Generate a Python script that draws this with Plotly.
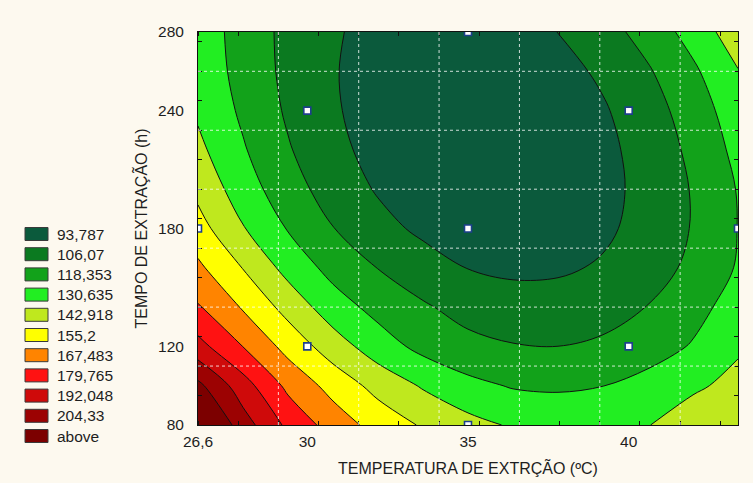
import plotly.graph_objects as go

# ---------------- data ----------------
temperatura = [26.6, 28.0, 29.4, 30.8, 32.2, 33.6, 35.0, 36.4, 37.8, 39.2, 40.6, 42.0, 43.4]
tempo = [80, 100, 120, 140, 160, 180, 200, 220, 240, 260, 280]

# response surface (rows follow `tempo`, columns follow `temperatura`)
z_80 = [225.0, 197.7, 177.0, 162.1, 150.5, 141.6, 134.6, 129.3, 127.0, 127.4, 130.3, 136.0, 140.0]
z_100 = [207.4, 185.1, 164.5, 150.8, 138.8, 129.4, 121.7, 117.4, 116.6, 118.2, 122.8, 129.0, 133.5]
z_120 = [184.0, 167.3, 151.0, 136.6, 124.2, 114.8, 109.4, 106.7, 106.1, 108.0, 112.5, 119.4, 129.3]
z_140 = [168.5, 154.0, 138.5, 124.0, 114.4, 107.5, 101.8, 99.2, 99.1, 101.5, 106.4, 113.9, 123.9]
z_160 = [157.6, 142.5, 126.5, 114.3, 105.8, 99.0, 93.5, 91.4, 92.0, 95.1, 100.7, 108.8, 119.4]
z_180 = [147.6, 131.4, 117.6, 106.4, 97.6, 91.4, 87.7, 86.5, 87.8, 91.6, 98.0, 106.8, 118.6]
z_200 = [139.8, 124.2, 111.2, 100.7, 92.7, 87.2, 84.2, 83.7, 85.8, 90.3, 97.4, 106.9, 119.0]
z_220 = [133.5, 119.5, 107.1, 97.1, 89.7, 84.9, 82.5, 82.7, 85.5, 90.7, 98.5, 108.8, 121.7]
z_240 = [128.8, 116.2, 104.4, 95.2, 88.4, 84.2, 82.5, 83.3, 86.7, 92.5, 100.8, 111.7, 125.1]
z_260 = [126.6, 114.0, 103.1, 94.6, 88.6, 85.1, 84.1, 85.5, 89.5, 95.9, 104.8, 116.2, 130.1]
z_280 = [125.8, 113.1, 102.9, 95.1, 89.9, 87.1, 86.9, 89.1, 93.9, 101.1, 110.9, 123.1, 137.8]

# experimental design points
ponto_temp = [26.6, 30, 30, 35, 35, 35, 40, 40, 43.4]
ponto_tempo = [180, 120, 240, 80, 180, 280, 120, 240, 180]

# contour levels and legend
niveis = [93.787, 106.07, 118.353, 130.635, 142.918, 155.2, 167.483, 179.765, 192.048, 204.33]
rotulos = ["93,787", "106,07", "118,353", "130,635", "142,918", "155,2",
           "167,483", "179,765", "192,048", "204,33", "above"]
cores = ["#0b5a3c", "#0b7a20", "#12a21a", "#22ee22", "#bfe81e", "#ffff00",
         "#ff8400", "#ff1212", "#cf0a0a", "#9c0202", "#7c0000"]

x_tickvals = [26.6, 30, 35, 40, 43.4]
x_ticktext = ["26,6", "30", "35", "40", "43,4"]
y_tickvals = [80, 120, 180, 240, 280]
y_ticktext = ["80", "120", "180", "240", "280"]

# ---------------- figure ----------------
z = [z_80, z_100, z_120, z_140, z_160, z_180, z_200, z_220, z_240, z_260, z_280]

n = len(cores)
colorscale = []
for k, c in enumerate(cores):
    lo = max(0.0, (k - 0.5) / (n - 1))
    hi = min(1.0, (k + 0.5) / (n - 1))
    colorscale.append([lo, c])
    colorscale.append([hi, c])

TXT = "#1e1e1e"
FONT = "Liberation Sans, Arial, sans-serif"

fig = go.Figure()
fig.add_trace(go.Contour(
    x=temperatura, y=tempo, z=z,
    autocontour=False,
    contours=dict(start=niveis[0], end=niveis[-1],
                  size=(niveis[-1] - niveis[0]) / (len(niveis) - 1),
                  coloring="fill", showlines=True),
    colorscale=colorscale, showscale=False,
    line=dict(color="#111111", width=1, smoothing=1.0),
    hoverinfo="skip",
))
fig.add_trace(go.Scatter(
    x=ponto_temp, y=ponto_tempo, mode="markers",
    marker=dict(symbol="square", size=7, color="white",
                line=dict(color="#1d3f8c", width=1.6)),
    showlegend=False, hoverinfo="skip",
))

# plot-area geometry in pixels (used to place legend)
L, R, T, B = 198, 738, 32, 425
W, H = 753, 483

def px_x(px):
    return (px - L) / (R - L)

def px_y(py):
    return (B - py) / (B - T)

shapes = []
annotations = []

# dotted white grid above the fill
x0, x1 = temperatura[0], temperatura[-1]
y0, y1 = tempo[0], tempo[-1]
gx = x0 + 2.5
while gx < x1 - 0.01:
    shapes.append(dict(type="line", xref="x", yref="y", x0=gx, x1=gx, y0=y0, y1=y1,
                       line=dict(color="rgba(255,255,255,0.8)", width=1, dash="dot"),
                       layer="above"))
    gx += 2.5
gy = y0 + 30
while gy < y1 - 0.01:
    shapes.append(dict(type="line", xref="x", yref="y", x0=x0, x1=x1, y0=gy, y1=gy,
                       line=dict(color="rgba(255,255,255,0.8)", width=1, dash="dot"),
                       layer="above"))
    gy += 30

# legend
for k, (lab, c) in enumerate(zip(rotulos, cores)):
    yc = 234 + 20.2 * k
    shapes.append(dict(type="rect", xref="paper", yref="paper",
                       x0=px_x(25), x1=px_x(48), y0=px_y(yc + 6.5), y1=px_y(yc - 6.5),
                       fillcolor=c, line=dict(color="#3a3a3a", width=1), layer="above"))
    annotations.append(dict(xref="paper", yref="paper", x=px_x(55), y=px_y(yc),
                            text=lab, showarrow=False, xanchor="left", yanchor="middle",
                            font=dict(family=FONT, size=15.5, color=TXT)))

fig.update_layout(
    width=W, height=H,
    margin=dict(l=L, r=W - R, t=T, b=H - B),
    paper_bgcolor="#fdf9ef", plot_bgcolor="#fdf9ef",
    font=dict(family=FONT, size=15.5, color=TXT),
    shapes=shapes, annotations=annotations,
    showlegend=False,
)
fig.update_xaxes(
    range=[x0, x1], tickmode="array", tickvals=x_tickvals, ticktext=x_ticktext,
    showgrid=False, zeroline=False, showline=True, linecolor="#111", linewidth=1,
    mirror="allticks", ticks="", ticklabelstandoff=2,
    minor=dict(ticks="inside", tick0=26.6, dtick=1.25, ticklen=4, tickcolor="#111", tickwidth=1),
    title=dict(text="TEMPERATURA DE EXTRÇÃO (ºC)", font=dict(size=16, color=TXT), standoff=14),
    automargin=False,
)
fig.update_yaxes(
    range=[y0, y1], tickmode="array", tickvals=y_tickvals, ticktext=y_ticktext,
    showgrid=False, zeroline=False, showline=True, linecolor="#111", linewidth=1,
    mirror="allticks", ticks="", ticklabelstandoff=10,
    minor=dict(ticks="inside", tick0=80, dtick=15, ticklen=4, tickcolor="#111", tickwidth=1),
    title=dict(text="TEMPO DE EXTRAÇÃO (h)", font=dict(size=16, color=TXT), standoff=6),
    automargin=False,
)

fig.write_html("out.html")
